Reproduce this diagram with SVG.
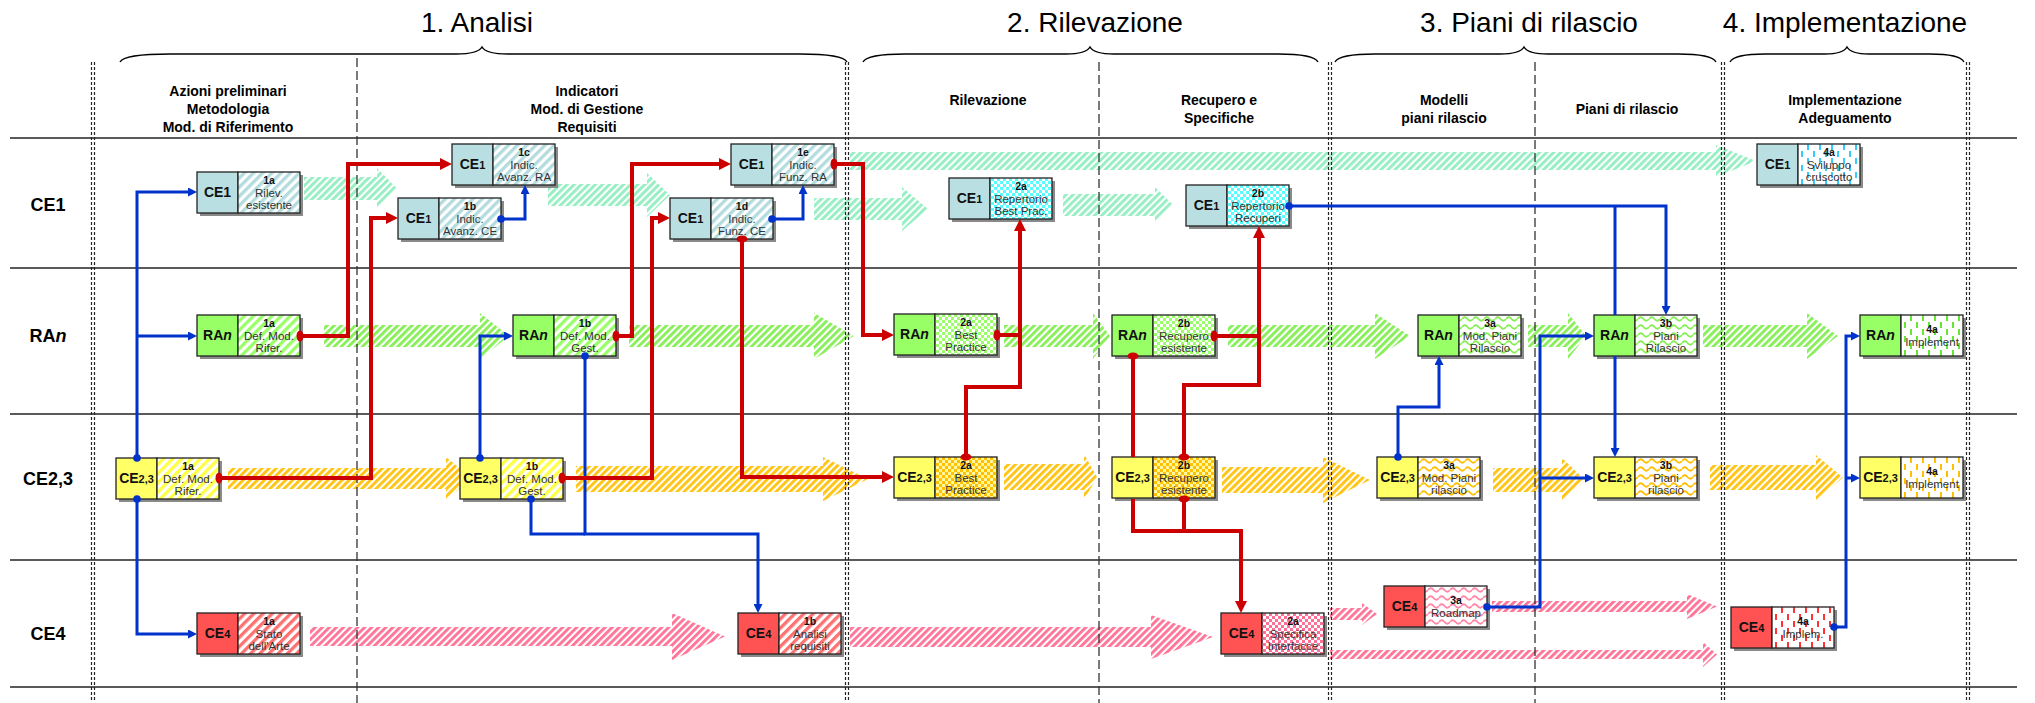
<svg xmlns="http://www.w3.org/2000/svg" width="2035" height="703" viewBox="0 0 2035 703">
<style>
  .title{font-family:"Liberation Sans",Arial,sans-serif;font-size:28px;fill:#000;text-anchor:middle}
  .head{font-family:"Liberation Sans",Arial,sans-serif;font-size:14px;font-weight:bold;fill:#000;text-anchor:middle}
  .row{font-family:"Liberation Sans",Arial,sans-serif;font-size:18px;font-weight:bold;fill:#000;text-anchor:middle}
  .lab{font-family:"Liberation Sans Narrow","Liberation Sans",Arial,sans-serif;font-size:14px;font-weight:bold;fill:#111;text-anchor:middle}
  .sub{font-size:11px}
  .id{font-family:"Liberation Sans Narrow","Liberation Sans",Arial,sans-serif;font-size:10.5px;font-weight:bold;fill:#111;text-anchor:middle}
  .ds{font-family:"Liberation Sans Narrow","Liberation Sans",Arial,sans-serif;font-size:11.5px;fill:#333;text-anchor:middle}
  .k{stroke:#222;stroke-width:1.3}
  .sh{fill:#8a8a8a}
  .ce1{fill:#b9dfe2}
  .ran{fill:#99ff66}
  .ce23{fill:#ffff66}
  .ce4{fill:#ff5252}
  .grid{stroke:#5a5a5a;stroke-width:1.8}
  .dd{stroke:#222;stroke-width:1.2;stroke-dasharray:3 2;fill:none}
  .dash{stroke:#333;stroke-width:1.3;stroke-dasharray:9 4;fill:none}
  .brace{fill:none;stroke:#000;stroke-width:1.4}
  .cb{fill:none;stroke:#0033cc;stroke-width:3}
  .cr{fill:none;stroke:#cc0000;stroke-width:4}
  .ms-b{marker-start:url(#db)}
  .me-b{marker-end:url(#ab)}
  .ms-r{marker-start:url(#dr)}
  .me-r{marker-end:url(#ar)}
</style>
<defs>
  <!-- phase 1: diagonal stripes -->
  <pattern id="p1-ce1" width="6.5" height="6.5" patternUnits="userSpaceOnUse" patternTransform="rotate(45)"><rect width="6.5" height="6.5" fill="#fff"/><rect width="3.3" height="6.5" fill="#b4dcdf"/></pattern>
  <pattern id="p1-ran" width="6.5" height="6.5" patternUnits="userSpaceOnUse" patternTransform="rotate(45)"><rect width="6.5" height="6.5" fill="#fff"/><rect width="3.3" height="6.5" fill="#99ff66"/></pattern>
  <pattern id="p1-ce23" width="6.5" height="6.5" patternUnits="userSpaceOnUse" patternTransform="rotate(45)"><rect width="6.5" height="6.5" fill="#fff"/><rect width="3.3" height="6.5" fill="#ffff44"/></pattern>
  <pattern id="p1-ce4" width="6.5" height="6.5" patternUnits="userSpaceOnUse" patternTransform="rotate(45)"><rect width="6.5" height="6.5" fill="#fff"/><rect width="3.3" height="6.5" fill="#ff7070"/></pattern>
  <!-- phase 2: checks -->
  <pattern id="p2-ce1" width="6" height="6" patternUnits="userSpaceOnUse"><rect width="6" height="6" fill="#fff"/><rect width="3" height="3" fill="#55ffff"/><rect x="3" y="3" width="3" height="3" fill="#55ffff"/></pattern>
  <pattern id="p2-ran" width="6" height="6" patternUnits="userSpaceOnUse"><rect width="6" height="6" fill="#fff"/><rect width="3" height="3" fill="#99ff66"/><rect x="3" y="3" width="3" height="3" fill="#99ff66"/></pattern>
  <pattern id="p2-ce23" width="6" height="6" patternUnits="userSpaceOnUse"><rect width="6" height="6" fill="#fff6a0"/><rect width="3" height="3" fill="#ffc000"/><rect x="3" y="3" width="3" height="3" fill="#ffc000"/></pattern>
  <pattern id="p2-ce4" width="6" height="6" patternUnits="userSpaceOnUse"><rect width="6" height="6" fill="#fff"/><rect width="3" height="3" fill="#ff6f96"/><rect x="3" y="3" width="3" height="3" fill="#ff6f96"/></pattern>
  <!-- phase 3: waves -->
  <pattern id="p3-ran" width="11" height="8" patternUnits="userSpaceOnUse"><rect width="11" height="8" fill="#fff"/><path d="M0,4 Q2.75,0.5 5.5,4 T11,4" fill="none" stroke="#88ee55" stroke-width="1.8"/></pattern>
  <pattern id="p3-ce23" width="11" height="8" patternUnits="userSpaceOnUse"><rect width="11" height="8" fill="#fff"/><path d="M0,4 Q2.75,0.5 5.5,4 T11,4" fill="none" stroke="#ffc000" stroke-width="1.8"/></pattern>
  <pattern id="p3-ce4" width="11" height="8" patternUnits="userSpaceOnUse"><rect width="11" height="8" fill="#fff"/><path d="M0,4 Q2.75,0.5 5.5,4 T11,4" fill="none" stroke="#ff86a6" stroke-width="1.8"/></pattern>
  <!-- phase 4: vertical dashes -->
  <pattern id="p4-ce1" width="12" height="14" patternUnits="userSpaceOnUse"><rect width="12" height="14" fill="#fff"/><rect x="2" y="0" width="2" height="6" fill="#33ccff"/><rect x="8" y="7" width="2" height="6" fill="#33ccff"/></pattern>
  <pattern id="p4-ran" width="12" height="14" patternUnits="userSpaceOnUse"><rect width="12" height="14" fill="#fff"/><rect x="2" y="0" width="2" height="6" fill="#66e633"/><rect x="8" y="7" width="2" height="6" fill="#66e633"/></pattern>
  <pattern id="p4-ce23" width="12" height="14" patternUnits="userSpaceOnUse"><rect width="12" height="14" fill="#fff"/><rect x="2" y="0" width="2" height="6" fill="#ffc000"/><rect x="8" y="7" width="2" height="6" fill="#ffc000"/></pattern>
  <pattern id="p4-ce4" width="12" height="14" patternUnits="userSpaceOnUse"><rect width="12" height="14" fill="#fff"/><rect x="2" y="0" width="2" height="6" fill="#ff3333"/><rect x="8" y="7" width="2" height="6" fill="#ff3333"/></pattern>
  <!-- hatching of the flow arrows -->
  <pattern id="h-ce1" width="5" height="5" patternUnits="userSpaceOnUse" patternTransform="rotate(45)"><rect width="2.9" height="5" fill="#96efc2"/></pattern>
  <pattern id="h-ran" width="5" height="5" patternUnits="userSpaceOnUse" patternTransform="rotate(45)"><rect width="2.9" height="5" fill="#88ef5a"/></pattern>
  <pattern id="h-ce23" width="5" height="5" patternUnits="userSpaceOnUse" patternTransform="rotate(45)"><rect width="2.9" height="5" fill="#ffc414"/></pattern>
  <pattern id="h-ce4" width="5" height="5" patternUnits="userSpaceOnUse" patternTransform="rotate(45)"><rect width="2.9" height="5" fill="#ff7598"/></pattern>
  <!-- connector ends -->
  <marker id="ar" viewBox="0 0 12 12" refX="6" refY="6" markerWidth="12" markerHeight="12" markerUnits="userSpaceOnUse" orient="auto"><path d="M0,0 L12,6 L0,12 z" fill="#cc0000"/></marker>
  <marker id="ab" viewBox="0 0 9 9" refX="4.5" refY="4.5" markerWidth="9" markerHeight="9" markerUnits="userSpaceOnUse" orient="auto"><path d="M0,0 L9,4.5 L0,9 z" fill="#0033cc"/></marker>
  <marker id="dr" viewBox="-4 -6 8 12" refX="0" refY="0" markerWidth="8" markerHeight="12" markerUnits="userSpaceOnUse" orient="auto"><ellipse rx="3.5" ry="5.5" fill="#cc0000"/></marker>
  <marker id="db" viewBox="-4 -4 8 8" refX="0" refY="0" markerWidth="8" markerHeight="8" markerUnits="userSpaceOnUse"><circle r="3.8" fill="#0033cc"/></marker>
</defs>

<rect width="2035" height="703" fill="#fff"/>

<!-- phase titles -->
<g id="titles">
  <text class="title" x="477" y="32">1. Analisi</text>
  <text class="title" x="1095" y="32">2. Rilevazione</text>
  <text class="title" x="1529" y="32">3. Piani di rilascio</text>
  <text class="title" x="1845" y="32">4. Implementazione</text>
</g>

<!-- braces -->
<g id="braces">
  <path class="brace" d="M120,62 Q124,54 170,54 L456,54 Q478,54 482,47 Q486,54 508,54 L800,54 Q843,54 847,62"/>
  <path class="brace" d="M863,62 Q867,54 905,54 L1066,54 Q1086,54 1090,47 Q1094,54 1114,54 L1278,54 Q1314,54 1318,62"/>
  <path class="brace" d="M1335,62 Q1339,54 1375,54 L1500,54 Q1520,54 1524,47 Q1528,54 1548,54 L1678,54 Q1712,54 1716,62"/>
  <path class="brace" d="M1730,62 Q1734,54 1765,54 L1825,54 Q1843,54 1847,47 Q1851,54 1869,54 L1930,54 Q1960,54 1964,62"/>
</g>

<!-- section headings -->
<g id="headings">
  <text class="head" x="228" y="96">Azioni preliminari</text>
  <text class="head" x="228" y="114">Metodologia</text>
  <text class="head" x="228" y="132">Mod. di Riferimento</text>
  <text class="head" x="587" y="96">Indicatori</text>
  <text class="head" x="587" y="114">Mod. di Gestione</text>
  <text class="head" x="587" y="132">Requisiti</text>
  <text class="head" x="988" y="105">Rilevazione</text>
  <text class="head" x="1219" y="105">Recupero e</text>
  <text class="head" x="1219" y="123">Specifiche</text>
  <text class="head" x="1444" y="105">Modelli</text>
  <text class="head" x="1444" y="123">piani rilascio</text>
  <text class="head" x="1627" y="114">Piani di rilascio</text>
  <text class="head" x="1845" y="105">Implementazione</text>
  <text class="head" x="1845" y="123">Adeguamento</text>
</g>

<!-- row labels -->
<g id="rows">
  <text class="row" x="48" y="211">CE1</text>
  <text class="row" x="48" y="342">RA<tspan font-style="italic">n</tspan></text>
  <text class="row" x="48" y="485">CE2,3</text>
  <text class="row" x="48" y="640">CE4</text>
</g>

<!-- flow arrows -->
<g id="flows">
  <path fill="url(#h-ce1)" d="M304,177 H377 V168 L397,188.5 L377,209 V200 H304 Z"/>
  <path fill="url(#h-ce1)" d="M548,184 H647 V173 L670,195 L647,217 V206 H548 Z"/>
  <path fill="url(#h-ce1)" d="M850,152 H1716 V145 L1756,161 L1716,177 V170 H850 Z"/>
  <path fill="url(#h-ce1)" d="M814,198 H902 V187 L928,209 L902,231 V220 H814 Z"/>
  <path fill="url(#h-ce1)" d="M1063,194 H1155 V187 L1173,205 L1155,223 V216 H1063 Z"/>

  <path fill="url(#h-ran)" d="M324,325 H480 V313 L509,336 L480,359 V347 H324 Z"/>
  <path fill="url(#h-ran)" d="M629,325 H814 V313 L854,336 L814,359 V347 H629 Z"/>
  <path fill="url(#h-ran)" d="M1004,325 H1093 V313 L1110,336 L1093,359 V347 H1004 Z"/>
  <path fill="url(#h-ran)" d="M1228,325 H1375 V313 L1410,336 L1375,359 V347 H1228 Z"/>
  <path fill="url(#h-ran)" d="M1528,325 H1568 V313 L1586,336 L1568,359 V347 H1528 Z"/>
  <path fill="url(#h-ran)" d="M1703,325 H1807 V313 L1838,336 L1807,359 V347 H1703 Z"/>

  <path fill="url(#h-ce23)" d="M228,468 H446 V457 L472,478.5 L446,500 V489 H228 Z"/>
  <path fill="url(#h-ce23)" d="M576,466 H823 V457 L868,479 L823,501 V492 H576 Z"/>
  <path fill="url(#h-ce23)" d="M1004,464 H1084 V454 L1097,477 L1084,500 V490 H1004 Z"/>
  <path fill="url(#h-ce23)" d="M1222,467 H1323 V457 L1370,480 L1323,503 V493 H1222 Z"/>
  <path fill="url(#h-ce23)" d="M1493,468 H1562 V458 L1585,480 L1562,502 V492 H1493 Z"/>
  <path fill="url(#h-ce23)" d="M1710,465 H1816 V455 L1843,477.5 L1816,500 V490 H1710 Z"/>

  <path fill="url(#h-ce4)" d="M310,627 H672 V613 L725,636.5 L672,660 V646 H310 Z"/>
  <path fill="url(#h-ce4)" d="M850,627 H1151 V615 L1213,637 L1151,659 V647 H850 Z"/>
  <path fill="url(#h-ce4)" d="M1330,608 H1362 V603 L1377,614 L1362,625 V620 H1330 Z"/>
  <path fill="url(#h-ce4)" d="M1492,601 H1687 V594 L1717,606.5 L1687,619 V612 H1492 Z"/>
  <path fill="url(#h-ce4)" d="M1330,650 H1703 V642 L1717,654.5 L1703,667 V659 H1330 Z"/>
</g>

<!-- swimlane grid -->
<g id="grid">
  <line class="grid" x1="10" y1="138" x2="2017" y2="138"/>
  <line class="grid" x1="10" y1="268" x2="2017" y2="268"/>
  <line class="grid" x1="10" y1="414" x2="2017" y2="414"/>
  <line class="grid" x1="10" y1="560" x2="2017" y2="560"/>
  <line class="grid" x1="10" y1="687" x2="2017" y2="687"/>
  <path class="dd" d="M91.5,62 V700 M94.5,62 V700"/>
  <path class="dd" d="M845.5,62 V700 M848.5,62 V700"/>
  <path class="dd" d="M1328.5,62 V700 M1331.5,62 V700"/>
  <path class="dd" d="M1721.5,62 V700 M1724.5,62 V700"/>
  <path class="dd" d="M1966.5,62 V700 M1969.5,62 V700"/>
  <path class="dash" d="M357,58 V703"/>
  <path class="dash" d="M1099,62 V703"/>
  <path class="dash" d="M1535,62 V703"/>
</g>

<!-- activity nodes -->
<g id="n1a-ce1" transform="translate(197,172)"><rect class="sh" x="3" y="3" width="103" height="41"/><rect class="k ce1" width="41" height="41"/><rect class="k" x="41" width="62" height="41" fill="url(#p1-ce1)"/><text class="lab" x="20.5" y="25">CE1</text><text class="id" x="72" y="12">1a</text><text class="ds" x="72" y="24.5">Rilev.</text><text class="ds" x="72" y="36.5">esistente</text></g>
<g id="n1a-ran" transform="translate(197,315)"><rect class="sh" x="3" y="3" width="103" height="41"/><rect class="k ran" width="41" height="41"/><rect class="k" x="41" width="62" height="41" fill="url(#p1-ran)"/><text class="lab" x="20.5" y="25">RA<tspan font-style="italic">n</tspan></text><text class="id" x="72" y="12">1a</text><text class="ds" x="72" y="24.5">Def. Mod.</text><text class="ds" x="72" y="36.5">Rifer.</text></g>
<g id="n1a-ce23" transform="translate(116,458)"><rect class="sh" x="3" y="3" width="103" height="41"/><rect class="k ce23" width="41" height="41"/><rect class="k" x="41" width="62" height="41" fill="url(#p1-ce23)"/><text class="lab" x="20.5" y="25">CE<tspan class="sub">2,3</tspan></text><text class="id" x="72" y="12">1a</text><text class="ds" x="72" y="24.5">Def. Mod.</text><text class="ds" x="72" y="36.5">Rifer.</text></g>
<g id="n1a-ce4" transform="translate(197,613)"><rect class="sh" x="3" y="3" width="103" height="41"/><rect class="k ce4" width="41" height="41"/><rect class="k" x="41" width="62" height="41" fill="url(#p1-ce4)"/><text class="lab" x="20.5" y="25">CE<tspan class="sub">4</tspan></text><text class="id" x="72" y="12">1a</text><text class="ds" x="72" y="24.5">Stato</text><text class="ds" x="72" y="36.5">dell'Arte</text></g>
<g id="n1c-ce1" transform="translate(452,144)"><rect class="sh" x="3" y="3" width="103" height="41"/><rect class="k ce1" width="41" height="41"/><rect class="k" x="41" width="62" height="41" fill="url(#p1-ce1)"/><text class="lab" x="20.5" y="25">CE<tspan class="sub">1</tspan></text><text class="id" x="72" y="12">1c</text><text class="ds" x="72" y="24.5">Indic.</text><text class="ds" x="72" y="36.5">Avanz. RA</text></g>
<g id="n1b-ce1" transform="translate(398,198)"><rect class="sh" x="3" y="3" width="103" height="41"/><rect class="k ce1" width="41" height="41"/><rect class="k" x="41" width="62" height="41" fill="url(#p1-ce1)"/><text class="lab" x="20.5" y="25">CE<tspan class="sub">1</tspan></text><text class="id" x="72" y="12">1b</text><text class="ds" x="72" y="24.5">Indic.</text><text class="ds" x="72" y="36.5">Avanz. CE</text></g>
<g id="n1b-ran" transform="translate(513,315)"><rect class="sh" x="3" y="3" width="103" height="41"/><rect class="k ran" width="41" height="41"/><rect class="k" x="41" width="62" height="41" fill="url(#p1-ran)"/><text class="lab" x="20.5" y="25">RA<tspan font-style="italic">n</tspan></text><text class="id" x="72" y="12">1b</text><text class="ds" x="72" y="24.5">Def. Mod.</text><text class="ds" x="72" y="36.5">Gest.</text></g>
<g id="n1b-ce23" transform="translate(460,458)"><rect class="sh" x="3" y="3" width="103" height="41"/><rect class="k ce23" width="41" height="41"/><rect class="k" x="41" width="62" height="41" fill="url(#p1-ce23)"/><text class="lab" x="20.5" y="25">CE<tspan class="sub">2,3</tspan></text><text class="id" x="72" y="12">1b</text><text class="ds" x="72" y="24.5">Def. Mod.</text><text class="ds" x="72" y="36.5">Gest.</text></g>
<g id="n1e-ce1" transform="translate(731,144)"><rect class="sh" x="3" y="3" width="103" height="41"/><rect class="k ce1" width="41" height="41"/><rect class="k" x="41" width="62" height="41" fill="url(#p1-ce1)"/><text class="lab" x="20.5" y="25">CE<tspan class="sub">1</tspan></text><text class="id" x="72" y="12">1e</text><text class="ds" x="72" y="24.5">Indic.</text><text class="ds" x="72" y="36.5">Funz. RA</text></g>
<g id="n1d-ce1" transform="translate(670,198)"><rect class="sh" x="3" y="3" width="103" height="41"/><rect class="k ce1" width="41" height="41"/><rect class="k" x="41" width="62" height="41" fill="url(#p1-ce1)"/><text class="lab" x="20.5" y="25">CE<tspan class="sub">1</tspan></text><text class="id" x="72" y="12">1d</text><text class="ds" x="72" y="24.5">Indic.</text><text class="ds" x="72" y="36.5">Funz. CE</text></g>
<g id="n1b-ce4" transform="translate(738,613)"><rect class="sh" x="3" y="3" width="103" height="41"/><rect class="k ce4" width="41" height="41"/><rect class="k" x="41" width="62" height="41" fill="url(#p1-ce4)"/><text class="lab" x="20.5" y="25">CE<tspan class="sub">4</tspan></text><text class="id" x="72" y="12">1b</text><text class="ds" x="72" y="24.5">Analisi</text><text class="ds" x="72" y="36.5">requisiti</text></g>
<g id="n2a-ce1" transform="translate(949,178)"><rect class="sh" x="3" y="3" width="103" height="41"/><rect class="k ce1" width="41" height="41"/><rect class="k" x="41" width="62" height="41" fill="url(#p2-ce1)"/><text class="lab" x="20.5" y="25">CE<tspan class="sub">1</tspan></text><text class="id" x="72" y="12">2a</text><text class="ds" x="72" y="24.5">Repertorio</text><text class="ds" x="72" y="36.5">Best Prac.</text></g>
<g id="n2b-ce1" transform="translate(1186,185)"><rect class="sh" x="3" y="3" width="103" height="41"/><rect class="k ce1" width="41" height="41"/><rect class="k" x="41" width="62" height="41" fill="url(#p2-ce1)"/><text class="lab" x="20.5" y="25">CE<tspan class="sub">1</tspan></text><text class="id" x="72" y="12">2b</text><text class="ds" x="72" y="24.5">Repertorio</text><text class="ds" x="72" y="36.5">Recuperi</text></g>
<g id="n2a-ran" transform="translate(894,314)"><rect class="sh" x="3" y="3" width="103" height="41"/><rect class="k ran" width="41" height="41"/><rect class="k" x="41" width="62" height="41" fill="url(#p2-ran)"/><text class="lab" x="20.5" y="25">RA<tspan font-style="italic">n</tspan></text><text class="id" x="72" y="12">2a</text><text class="ds" x="72" y="24.5">Best</text><text class="ds" x="72" y="36.5">Practice</text></g>
<g id="n2b-ran" transform="translate(1112,315)"><rect class="sh" x="3" y="3" width="103" height="41"/><rect class="k ran" width="41" height="41"/><rect class="k" x="41" width="62" height="41" fill="url(#p2-ran)"/><text class="lab" x="20.5" y="25">RA<tspan font-style="italic">n</tspan></text><text class="id" x="72" y="12">2b</text><text class="ds" x="72" y="24.5">Recupero</text><text class="ds" x="72" y="36.5">esistente</text></g>
<g id="n2a-ce23" transform="translate(894,457)"><rect class="sh" x="3" y="3" width="103" height="41"/><rect class="k ce23" width="41" height="41"/><rect class="k" x="41" width="62" height="41" fill="url(#p2-ce23)"/><text class="lab" x="20.5" y="25">CE<tspan class="sub">2,3</tspan></text><text class="id" x="72" y="12">2a</text><text class="ds" x="72" y="24.5">Best</text><text class="ds" x="72" y="36.5">Practice</text></g>
<g id="n2b-ce23" transform="translate(1112,457)"><rect class="sh" x="3" y="3" width="103" height="41"/><rect class="k ce23" width="41" height="41"/><rect class="k" x="41" width="62" height="41" fill="url(#p2-ce23)"/><text class="lab" x="20.5" y="25">CE<tspan class="sub">2,3</tspan></text><text class="id" x="72" y="12">2b</text><text class="ds" x="72" y="24.5">Recupero</text><text class="ds" x="72" y="36.5">esistente</text></g>
<g id="n2a-ce4" transform="translate(1221,613)"><rect class="sh" x="3" y="3" width="103" height="41"/><rect class="k ce4" width="41" height="41"/><rect class="k" x="41" width="62" height="41" fill="url(#p2-ce4)"/><text class="lab" x="20.5" y="25">CE<tspan class="sub">4</tspan></text><text class="id" x="72" y="12">2a</text><text class="ds" x="72" y="24.5">Specifica</text><text class="ds" x="72" y="36.5">Interfacce</text></g>
<g id="n3a-ran" transform="translate(1418,315)"><rect class="sh" x="3" y="3" width="103" height="41"/><rect class="k ran" width="41" height="41"/><rect class="k" x="41" width="62" height="41" fill="url(#p3-ran)"/><text class="lab" x="20.5" y="25">RA<tspan font-style="italic">n</tspan></text><text class="id" x="72" y="12">3a</text><text class="ds" x="72" y="24.5">Mod. Piani</text><text class="ds" x="72" y="36.5">Rilascio</text></g>
<g id="n3b-ran" transform="translate(1594,315)"><rect class="sh" x="3" y="3" width="103" height="41"/><rect class="k ran" width="41" height="41"/><rect class="k" x="41" width="62" height="41" fill="url(#p3-ran)"/><text class="lab" x="20.5" y="25">RA<tspan font-style="italic">n</tspan></text><text class="id" x="72" y="12">3b</text><text class="ds" x="72" y="24.5">Piani</text><text class="ds" x="72" y="36.5">Rilascio</text></g>
<g id="n3a-ce23" transform="translate(1377,457)"><rect class="sh" x="3" y="3" width="103" height="41"/><rect class="k ce23" width="41" height="41"/><rect class="k" x="41" width="62" height="41" fill="url(#p3-ce23)"/><text class="lab" x="20.5" y="25">CE<tspan class="sub">2,3</tspan></text><text class="id" x="72" y="12">3a</text><text class="ds" x="72" y="24.5">Mod. Piani</text><text class="ds" x="72" y="36.5">rilascio</text></g>
<g id="n3b-ce23" transform="translate(1594,457)"><rect class="sh" x="3" y="3" width="103" height="41"/><rect class="k ce23" width="41" height="41"/><rect class="k" x="41" width="62" height="41" fill="url(#p3-ce23)"/><text class="lab" x="20.5" y="25">CE<tspan class="sub">2,3</tspan></text><text class="id" x="72" y="12">3b</text><text class="ds" x="72" y="24.5">Piani</text><text class="ds" x="72" y="36.5">rilascio</text></g>
<g id="n3a-ce4" transform="translate(1384,586)"><rect class="sh" x="3" y="3" width="103" height="41"/><rect class="k ce4" width="41" height="41"/><rect class="k" x="41" width="62" height="41" fill="url(#p3-ce4)"/><text class="lab" x="20.5" y="25">CE<tspan class="sub">4</tspan></text><text class="id" x="72" y="18">3a</text><text class="ds" x="72" y="31">Roadmap</text></g>
<g id="n4a-ce1" transform="translate(1757,144)"><rect class="sh" x="3" y="3" width="103" height="41"/><rect class="k ce1" width="41" height="41"/><rect class="k" x="41" width="62" height="41" fill="url(#p4-ce1)"/><text class="lab" x="20.5" y="25">CE<tspan class="sub">1</tspan></text><text class="id" x="72" y="12">4a</text><text class="ds" x="72" y="24.5">Sviluppo</text><text class="ds" x="72" y="36.5">cruscotto</text></g>
<g id="n4a-ran" transform="translate(1860,315)"><rect class="sh" x="3" y="3" width="103" height="41"/><rect class="k ran" width="41" height="41"/><rect class="k" x="41" width="62" height="41" fill="url(#p4-ran)"/><text class="lab" x="20.5" y="25">RA<tspan font-style="italic">n</tspan></text><text class="id" x="72" y="18">4a</text><text class="ds" x="72" y="31">Implement</text></g>
<g id="n4a-ce23" transform="translate(1860,457)"><rect class="sh" x="3" y="3" width="103" height="41"/><rect class="k ce23" width="41" height="41"/><rect class="k" x="41" width="62" height="41" fill="url(#p4-ce23)"/><text class="lab" x="20.5" y="25">CE<tspan class="sub">2,3</tspan></text><text class="id" x="72" y="18">4a</text><text class="ds" x="72" y="31">Implement</text></g>
<g id="n4a-ce4" transform="translate(1731,607)"><rect class="sh" x="3" y="3" width="103" height="41"/><rect class="k ce4" width="41" height="41"/><rect class="k" x="41" width="62" height="41" fill="url(#p4-ce4)"/><text class="lab" x="20.5" y="25">CE<tspan class="sub">4</tspan></text><text class="id" x="72" y="18">4a</text><text class="ds" x="72" y="31">Implem.</text></g>

<!-- dependency connectors -->
<g id="connectors">
  <path class="cb ms-b me-b" d="M137,458 V192 H192.5"/>
  <path class="cb me-b" d="M137,336 H192.5"/>
  <path class="cb ms-b me-b" d="M137,499 V634 H192.5"/>
  <path class="cb ms-b me-b" d="M501,219 H525 V189.5"/>
  <path class="cb ms-b me-b" d="M772,219 H803 V189.5"/>
  <path class="cb ms-b me-b" d="M480,458 V336 H508.5"/>
  <path class="cb ms-b me-b" d="M585,356 V534 H758 V608.5"/>
  <path class="cb ms-b" d="M531,499 V534 H585"/>
  <path class="cb ms-b me-b" d="M1289,206 H1666 V310.5"/>
  <path class="cb" d="M1615,206 V315"/>
  <path class="cb me-b" d="M1615,356 V452.5"/>
  <path class="cb ms-b me-b" d="M1398,457 V407 H1439 V360.5"/>
  <path class="cb ms-b me-b" d="M1487,607 H1540 V336 H1589.5"/>
  <path class="cb me-b" d="M1540,478 H1589.5"/>
  <path class="cb ms-b me-b" d="M1834,627 H1846 V336 H1855.5"/>
  <path class="cb me-b" d="M1846,478 H1855.5"/>

  <path class="cr ms-r me-r" d="M300,336 H348 V164 H446"/>
  <path class="cr ms-r me-r" d="M219,478 H371 V218 H392"/>
  <path class="cr ms-r me-r" d="M616,336 H632 V164 H725"/>
  <path class="cr ms-r me-r" d="M562,478 H652 V218 H664"/>
  <path class="cr ms-r me-r" d="M834,164 H863 V335 H888"/>
  <path class="cr ms-r me-r" d="M742,239 V477 H888"/>
  <path class="cr ms-r" d="M997,335 H1020"/>
  <path class="cr ms-r me-r" d="M966,457 V387 H1020 V225"/>
  <path class="cr ms-r" d="M1214,336 H1259"/>
  <path class="cr ms-r me-r" d="M1184,457 V385 H1259 V232"/>
  <path class="cr ms-r" d="M1133,356 V457"/>
  <path class="cr me-r" d="M1133,499 V531 H1241 V607"/>
  <path class="cr ms-r" d="M1184,499 V531"/>
</g>
</svg>
